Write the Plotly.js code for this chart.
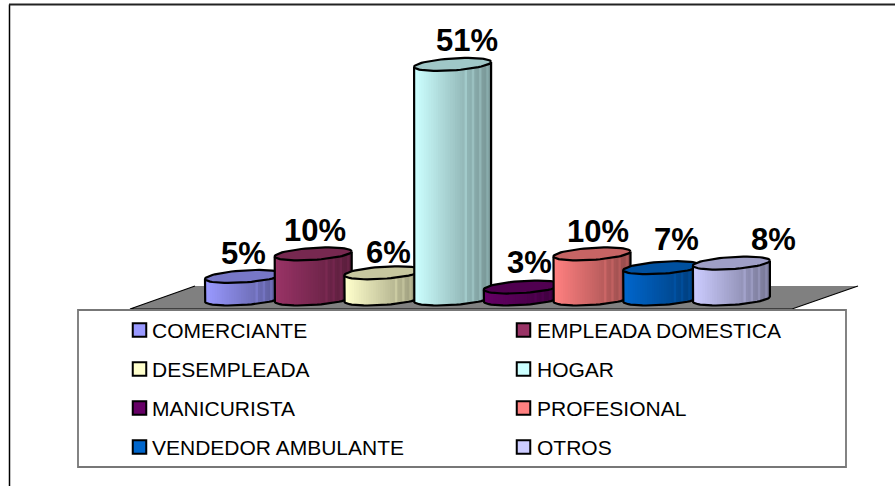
<!DOCTYPE html>
<html><head><meta charset="utf-8">
<script src="https://cdn.plot.ly/plotly-3.0.1.min.js"></script>
<style>html,body{margin:0;padding:0;background:#fff}</style></head>
<body><div id="chart" style="width:895px;height:486px"></div>
<script>
const categories = ["COMERCIANTE","EMPLEADA DOMESTICA","DESEMPLEADA","HOGAR","MANICURISTA","PROFESIONAL","VENDEDOR AMBULANTE","OTROS"];
const values = [4.9,9.8,5.7,51,2.6,9.8,6.8,7.8];
const colors = ["#9999FF","#993366","#FFFFCC","#CCFFFF","#660066","#FF8080","#0066CC","#CCCCFF"];
const labelShiftX = [0,2,6,14,7,6,15,42];
const labelShiftY = [23,23,20,24,25,22,28,24];

const W=895,H=486, X0=243.5, DX=69.7, Y0=299, PX=4.6;
const rx=38.5/DX, ry=6/PX, tilt=2.5/PX, NS=32;
function shade(hex,f){
  const n=parseInt(hex.slice(1),16);
  const c=[n>>16,(n>>8)&255,n&255].map(v=>Math.min(255,Math.round(v*f)));
  return `rgb(${c[0]},${c[1]},${c[2]})`;
}
const traces=[];
const base={mode:'lines',hoverinfo:'skip',showlegend:false,xaxis:'x',yaxis:'y'};
values.forEach((v,i)=>{
  // body strips, light to dark
  for(let s=0;s<NS;s++){
    const u0=-1+2*s/NS, u1=Math.min(1,-1+2*(s+1.4)/NS);
    const xs=[],ys=[];
    const pts=[u0,(u0+u1)/2,u1];
    pts.forEach(u=>{xs.push(i+u*rx);ys.push(v+tilt*u);});
    pts.slice().reverse().forEach(u=>{xs.push(i+u*rx);ys.push(-ry*Math.sqrt(Math.max(0,1-u*u))+tilt*u);});
    let f=1-0.42*(s/(NS-1));
    if(s/NS>0.62 && s%3===0) f+=0.08;
    traces.push({...base,x:xs,y:ys,fill:'toself',fillcolor:shade(colors[i],f),line:{width:0}});
  }
  // outline of the body
  const ox=[],oy=[];
  ox.push(i-rx);oy.push(v-tilt);
  for(let a=180;a<=360;a+=6){
    const c=Math.cos(a*Math.PI/180),n=Math.sin(a*Math.PI/180);
    ox.push(i+rx*c);oy.push(ry*n+tilt*c);
  }
  ox.push(i+rx);oy.push(v+tilt);
  traces.push({...base,x:ox,y:oy,line:{color:'#000',width:2.2}});
  // top ellipse
  const ex=[],ey=[];
  for(let a=0;a<=360;a+=6){
    const c=Math.cos(a*Math.PI/180),n=Math.sin(a*Math.PI/180);
    ex.push(i+rx*c);ey.push(v+ry*n+tilt*c);
  }
  traces.push({...base,x:ex,y:ey,fill:'toself',fillcolor:shade(colors[i],0.78),line:{color:'#000',width:2.2}});
});
// legend swatches on a pixel axis
const legendX=[139.5,523.5], legendY=[330,369,408,447], legendTextX=[152,537];
const swX=categories.map((c,i)=>legendX[i%2]), swY=categories.map((c,i)=>legendY[Math.floor(i/2)]);
traces.push({type:'scatter',mode:'markers',x:swX,y:swY,xaxis:'x2',yaxis:'y2',hoverinfo:'skip',showlegend:false,
  marker:{symbol:'square',size:13.5,color:colors,line:{color:'#000',width:2}}});

const annotations=[];
values.forEach((v,i)=>annotations.push({x:i,y:v,xref:'x',yref:'y',text:'<b>'+Math.round(v)+'%</b>',showarrow:false,
  xshift:labelShiftX[i],yshift:labelShiftY[i],xanchor:'center',yanchor:'middle',
  font:{family:'"Liberation Sans",Arial,sans-serif',size:31,color:'#000'}}));
categories.forEach((c,i)=>annotations.push({x:legendTextX[i%2],y:swY[i],xref:'x2',yref:'y2',text:c,showarrow:false,
  xanchor:'left',yanchor:'middle',xshift:-2,font:{family:'"Liberation Sans",Arial,sans-serif',size:21,color:'#000'}}));

const shapes=[
 {type:'path',xref:'x2',yref:'y2',path:'M130,309 L195,286 L858,286 L792,309 Z',fillcolor:'#808080',line:{width:0},layer:'below'},
 {type:'path',xref:'x2',yref:'y2',path:'M195,286 L130,309 L792,309 L858,286',line:{color:'#000',width:1.2},layer:'below'},
 {type:'rect',xref:'x2',yref:'y2',x0:78,x1:846,y0:310,y1:467,fillcolor:'#fff',line:{color:'#777',width:1.8},layer:'below'},
 {type:'line',xref:'x2',yref:'y2',x0:9.5,x1:9.5,y0:4.5,y1:486,line:{color:'#000',width:1.5},layer:'below'},
 {type:'line',xref:'x2',yref:'y2',x0:9,x1:895,y0:4.5,y1:4.5,line:{color:'#222',width:2},layer:'below'}
];
const layout={width:W,height:H,margin:{l:0,r:0,t:0,b:0},paper_bgcolor:'#fff',plot_bgcolor:'rgba(0,0,0,0)',showlegend:false,
  xaxis:{visible:false,fixedrange:true,range:[-X0/DX,(W-X0)/DX]},
  yaxis:{visible:false,fixedrange:true,range:[(Y0-H)/PX,Y0/PX]},
  xaxis2:{visible:false,fixedrange:true,range:[0,W],overlaying:'x'},
  yaxis2:{visible:false,fixedrange:true,range:[H,0],overlaying:'y'},
  shapes,annotations};
Plotly.newPlot('chart',traces,layout,{staticPlot:true,displayModeBar:false});
</script></body></html>
